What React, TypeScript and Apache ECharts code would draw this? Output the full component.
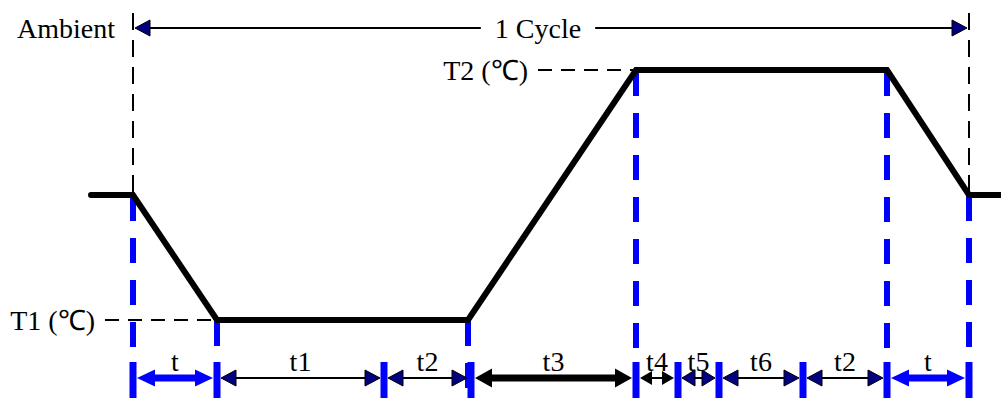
import React, { useEffect, useRef } from "react";
import * as echarts from "echarts";

// ---- data ----
const levelNames = ["T1 (℃)", "Ambient", "T2 (℃)"]; // level 0, 1, 2
const profileTime = [91, 133, 217, 468, 636, 887, 969, 1001];
const profileLevel = [1, 1, 0, 0, 2, 2, 1, 1];
const phaseBounds = [133, 217, 384, 471, 636, 678, 719, 803, 887, 969];
const phaseLabels = ["t", "t1", "t2", "t3", "t4", "t5", "t6", "t2", "t"];
const phaseKinds = ["ramp", "dwell", "dwell", "bold", "small", "smallNavy", "dwell", "dwell", "ramp"];
const guideTimes = [133, 217, 468, 636, 887, 969];
const guideLevels = [1, 0, 0, 2, 2, 1];
const cycleTimes = [133, 969];
const cycleLabel = "1 Cycle";
const cycleLabelTime = 538;
const refLineStart = [105, 0, 538]; // dashed leader start per level (level 1 unused)

// ---- layout ----
const Y_MIN = -0.624;
const Y_MAX = 2.56;
const BOTTOM_ROW = -0.464;
const TOP_ROW = 2.336;
const FAMILY = "Liberation Serif";
const FSIZE = 28;
const BLUE = "#0000ff";
const NAVY = "#000080";

const kindStyle: Record<string, any> = {
  ramp: { shaft: BLUE, w: 7, head: BLUE, stroke: null, len: 18, half: 8.5 },
  dwell: { shaft: "#000", w: 2, head: NAVY, stroke: "#000", len: 15, half: 8 },
  bold: { shaft: "#000", w: 7, head: "#000", stroke: null, len: 17, half: 9.5 },
  small: { shaft: "#000", w: 2, head: "#000", stroke: null, len: 12, half: 7 },
  smallNavy: { shaft: "#000", w: 2, head: NAVY, stroke: "#000", len: 13, half: 8 },
};

function textEl(text: string, x: number, y: number, align: string, extra: any = {}) {
  return {
    type: "text",
    style: {
      text,
      x,
      y,
      align,
      verticalAlign: "middle",
      fontFamily: FAMILY,
      fontSize: FSIZE,
      fill: "#000",
      ...extra,
    },
  };
}

function arrowEls(x1: number, x2: number, y: number, st: any) {
  const els: any[] = [];
  els.push({
    type: "line",
    shape: { x1: x1 + st.len - 2, y1: y, x2: x2 - st.len + 2, y2: y },
    style: { stroke: st.shaft, lineWidth: st.w },
  });
  const hs = st.stroke ? { fill: st.head, stroke: st.stroke, lineWidth: 1 } : { fill: st.head };
  els.push({
    type: "polygon",
    shape: { points: [[x1, y], [x1 + st.len, y - st.half], [x1 + st.len, y + st.half]] },
    style: hs,
  });
  els.push({
    type: "polygon",
    shape: { points: [[x2, y], [x2 - st.len, y - st.half], [x2 - st.len, y + st.half]] },
    style: hs,
  });
  return els;
}

export default function App() {
  const ref = useRef<HTMLDivElement>(null);
  useEffect(() => {
    document.body.style.margin = "0";
    const chart = echarts.init(ref.current!, null, { renderer: "svg" });
    const profileData = profileTime.map((t, i) => [t, profileLevel[i]]);
    chart.setOption({
      animation: false,
      grid: { left: 0, right: 0, top: 0, bottom: 0 },
      xAxis: { type: "value", min: 0, max: 1001, show: false },
      yAxis: { type: "value", min: Y_MIN, max: Y_MAX, show: false },
      series: [
        // blue dashed guides
        {
          type: "custom",
          z: 1,
          data: guideTimes.map((t, i) => [t, guideLevels[i]]),
          renderItem: (p: any, api: any) => {
            const a = api.coord([api.value(0), api.value(1)]);
            const b = api.coord([api.value(0), Y_MIN]);
            return {
              type: "line",
              shape: { x1: a[0], y1: a[1] + 1, x2: b[0], y2: b[1] },
              style: { stroke: BLUE, lineWidth: 6, lineDash: [25, 17] },
            };
          },
        },
        // black dashed cycle verticals
        {
          type: "custom",
          z: 1,
          data: cycleTimes.map((t) => [t, 1]),
          renderItem: (p: any, api: any) => {
            const a = api.coord([api.value(0), TOP_ROW]);
            const b = api.coord([api.value(0), api.value(1)]);
            return {
              type: "line",
              shape: { x1: a[0], y1: a[1] - 15, x2: b[0], y2: b[1] },
              style: { stroke: "#000", lineWidth: 2, lineDash: [17, 10] },
            };
          },
        },
        // level leaders + labels
        {
          type: "custom",
          z: 2,
          data: [[refLineStart[0], 0, 217], [refLineStart[2], 2, 636]],
          renderItem: (p: any, api: any) => {
            const lvl = api.value(1);
            const a = api.coord([api.value(0), lvl]);
            const b = api.coord([api.value(2), lvl]);
            return {
              type: "group",
              children: [
                {
                  type: "line",
                  shape: { x1: a[0], y1: a[1], x2: b[0], y2: b[1] },
                  style: { stroke: "#000", lineWidth: 2, lineDash: [14, 9] },
                },
                textEl(levelNames[lvl], a[0] - 10, a[1], "right"),
              ],
            };
          },
        },
        // temperature profile
        {
          type: "line",
          z: 3,
          data: profileData,
          symbol: "none",
          lineStyle: { color: "#000", width: 6, cap: "round", join: "miter" },
        },
        // phase arrows
        {
          type: "custom",
          z: 4,
          data: phaseLabels.map((l, i) => [phaseBounds[i], phaseBounds[i + 1], i]),
          renderItem: (p: any, api: any) => {
            const i = api.value(2);
            const a = api.coord([api.value(0), BOTTOM_ROW]);
            const b = api.coord([api.value(1), BOTTOM_ROW]);
            const st = kindStyle[phaseKinds[i]];
            const els = arrowEls(a[0] + 4, b[0] - 4, a[1], st);
            els.push(textEl(phaseLabels[i], (a[0] + b[0]) / 2, a[1] - 17, "center"));
            return { type: "group", children: els };
          },
        },
        // blue boundary bars
        {
          type: "custom",
          z: 5,
          data: phaseBounds.map((t) => [t]),
          renderItem: (p: any, api: any) => {
            const a = api.coord([api.value(0), BOTTOM_ROW]);
            const b = api.coord([api.value(0), Y_MIN]);
            return {
              type: "rect",
              shape: { x: a[0] - 3.5, y: a[1] - 16, width: 7, height: b[1] - a[1] + 16 },
              style: { fill: BLUE },
            };
          },
        },
        // 1 cycle arrow
        {
          type: "custom",
          z: 4,
          data: [[cycleTimes[0], cycleTimes[1], cycleLabelTime]],
          renderItem: (p: any, api: any) => {
            const a = api.coord([api.value(0), TOP_ROW]);
            const b = api.coord([api.value(1), TOP_ROW]);
            const c = api.coord([api.value(2), TOP_ROW]);
            const els = arrowEls(a[0] + 2, b[0] - 2, a[1], kindStyle.dwell);
            els.push(
              textEl(cycleLabel, c[0], c[1], "center", { backgroundColor: "#fff", padding: [0, 14] })
            );
            els.push(textEl(levelNames[1], a[0] - 18, a[1], "right"));
            return { type: "group", children: els };
          },
        },
      ],
    });
    return () => chart.dispose();
  }, []);
  return <div ref={ref} style={{ width: 1001, height: 398 }} />;
}
